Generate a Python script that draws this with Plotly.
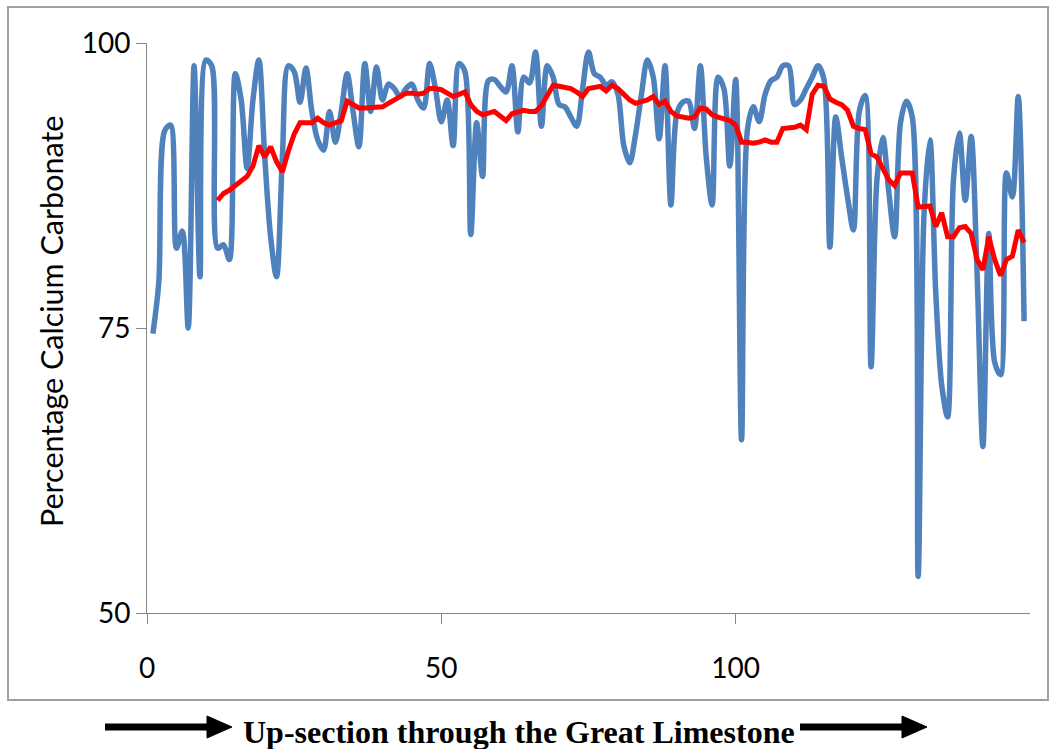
import plotly.graph_objects as go

# ---- data ----
blue_x = list(range(1, 150))
blue_y = [
    74.5, 79.0, 92.3, 92.8, 82.0, 83.5, 75.0, 98.0, 79.5, 98.5,   # 1-10
    98.0, 82.0, 82.3, 81.0, 97.3, 95.0, 89.0, 95.0, 98.5, 90.0,   # 11-20
    83.0, 79.5, 90.0, 98.0, 97.5, 94.8, 97.8, 94.0, 91.5, 90.6,   # 21-30
    94.0, 91.3, 94.0, 97.3, 94.0, 90.9, 98.2, 94.0, 97.9, 95.0,   # 31-40
    96.4, 96.0, 95.3, 96.0, 96.4, 95.0, 94.3, 98.2, 96.0, 93.1,   # 41-50
    95.0, 91.0, 98.2, 97.5, 83.2, 93.0, 88.3, 96.7, 96.8, 96.2,   # 51-60
    95.7, 98.0, 92.2, 97.0, 96.5, 99.2, 92.7, 98.0, 97.0, 94.6,   # 61-70
    94.4, 93.5, 92.7, 96.0, 99.2, 97.3, 97.0, 96.3, 96.6, 95.5,   # 71-80
    91.0, 89.5, 92.0, 95.5, 98.5, 97.0, 91.6, 98.0, 85.8, 93.8,   # 81-90
    94.8, 94.9, 92.5, 98.0, 90.0, 85.8, 97.0, 96.0, 89.2, 96.8,   # 91-100
    65.2, 92.4, 94.4, 93.1, 95.5, 96.7, 97.0, 98.0, 98.0, 94.6,   # 101-110
    95.0, 96.0, 97.0, 98.0, 96.8, 82.1, 93.5, 90.0, 86.5, 83.6,   # 111-120
    94.0, 95.4, 71.6, 88.0, 91.7, 87.0, 83.0, 93.0, 94.9, 93.5,   # 121-130
    53.2, 85.0, 91.5, 78.0, 70.0, 67.2, 88.0, 92.1, 86.2, 91.8,   # 131-140
    80.0, 64.6, 83.3, 72.0, 70.9, 88.6, 86.5, 95.3, 75.6,         # 141-149
]

red_x = list(range(12, 150))
red_y = [
    86.2, 86.8, 87.1, 87.5, 87.8, 88.3, 89.2, 91.0, 90.0,          # 12-20
    90.9, 89.6, 88.7, 90.5, 92.0, 93.0, 93.0, 93.0, 93.4, 93.0,    # 21-30
    92.8, 93.0, 93.2, 94.9, 94.6, 94.3, 94.3, 94.3, 94.4, 94.4,    # 31-40
    94.7, 95.0, 95.3, 95.6, 95.6, 95.5, 95.6, 96.0, 96.0, 95.9,    # 41-50
    95.6, 95.3, 95.5, 95.7, 94.6, 94.0, 93.7, 93.8, 94.0, 93.6,    # 51-60
    93.2, 93.8, 94.0, 94.1, 94.0, 94.0, 94.5, 95.5, 96.3, 96.2,    # 61-70
    96.1, 96.0, 95.7, 95.3, 96.0, 96.1, 96.2, 95.8, 96.3, 96.0,    # 71-80
    95.5, 95.0, 94.7, 94.8, 95.0, 95.3, 94.6, 94.9, 94.0, 93.6,    # 81-90
    93.5, 93.4, 93.5, 94.3, 94.2, 93.7, 93.5, 93.4, 93.2, 92.8,    # 91-100
    91.3, 91.3, 91.2, 91.3, 91.5, 91.3, 91.3, 92.5, 92.5, 92.6,    # 101-110
    92.8, 92.4, 95.5, 96.3, 96.2, 95.1, 94.8, 94.6, 94.1, 92.7,    # 111-120
    92.5, 92.4, 90.3, 90.0, 89.0, 88.0, 87.5, 88.6, 88.6, 88.6,    # 121-130
    85.6, 85.7, 85.7, 83.9, 85.1, 83.0, 83.0, 83.8, 83.9, 83.3,    # 131-140
    81.0, 80.1, 83.0, 81.0, 79.6, 81.0, 81.3, 83.6, 82.5,          # 141-149
]

y_ticks = [50, 75, 100]
x_ticks = [0, 50, 100]
y_title = "Percentage Calcium Carbonate"
bottom_caption = "Up-section through the Great Limestone"

# ---- layout geometry (pixels) ----
W, H = 1053, 749
PL, PR, PT, PB = 147, 1030, 43, 613


def px(x):
    return (x - PL) / (PR - PL)


def py(y):
    return (PB - y) / (PB - PT)


fig = go.Figure()
fig.add_trace(go.Scatter(x=blue_x, y=blue_y, mode="lines",
                         line=dict(color="#4F81BD", width=5.5, shape="spline", smoothing=0.9),
                         showlegend=False))
fig.add_trace(go.Scatter(x=red_x, y=red_y, mode="lines",
                         line=dict(color="#FF0000", width=5),
                         showlegend=False))

axis_col = "#868686"
font_fam = "Lato, 'Open Sans', sans-serif"

shapes = [
    # outer chart border
    dict(type="rect", xref="paper", yref="paper",
         x0=px(8), x1=px(1048), y0=py(700), y1=py(7),
         line=dict(color="#A0A0A0", width=2), fillcolor="rgba(0,0,0,0)", layer="below"),
    # left arrow
    dict(type="line", xref="paper", yref="paper", x0=px(105), x1=px(212), y0=py(727), y1=py(727),
         line=dict(color="black", width=7)),
    dict(type="path", xref="paper", yref="paper",
         path=f"M {px(207)} {py(716)} L {px(232)} {py(727)} L {px(207)} {py(738)} Z",
         fillcolor="black", line=dict(color="black", width=1)),
    # right arrow
    dict(type="line", xref="paper", yref="paper", x0=px(800), x1=px(907), y0=py(727), y1=py(727),
         line=dict(color="black", width=7)),
    dict(type="path", xref="paper", yref="paper",
         path=f"M {px(902)} {py(716)} L {px(927)} {py(727)} L {px(902)} {py(738)} Z",
         fillcolor="black", line=dict(color="black", width=1)),
]

annotations = [
    dict(text="<b>" + bottom_caption + "</b>", xref="paper", yref="paper", x=px(519), y=py(732),
         showarrow=False, xanchor="center", yanchor="middle",
         font=dict(family="'Liberation Serif', 'Times New Roman', serif", size=32, color="black")),
    dict(text=y_title, xref="paper", yref="paper", x=px(51), y=py(322), textangle=-90,
         showarrow=False, xanchor="center", yanchor="middle",
         font=dict(family=font_fam, size=30.5, color="black")),
]

fig.update_layout(
    width=W, height=H,
    margin=dict(l=PL, r=W - PR, t=PT, b=H - PB, autoexpand=False),
    paper_bgcolor="white", plot_bgcolor="white",
    shapes=shapes, annotations=annotations,
    font=dict(family=font_fam, color="black"),
    xaxis=dict(range=[0, 150], tickvals=x_ticks, ticks="outside", ticklen=10,
               tickcolor=axis_col, showline=True, linecolor=axis_col, linewidth=1,
               showgrid=False, zeroline=False, tickfont=dict(size=28, family=font_fam),
               ticklabelstandoff=20, automargin=False),
    yaxis=dict(range=[50, 100], tickvals=y_ticks, ticks="outside", ticklen=10,
               tickcolor=axis_col, showline=True, linecolor=axis_col, linewidth=1,
               showgrid=False, zeroline=False, tickfont=dict(size=28, family=font_fam),
               ticklabelstandoff=0, automargin=False),
)

fig.write_html("out.html", config={"displayModeBar": False},
               post_script="document.body.style.margin='0';document.body.style.overflow='hidden';")
